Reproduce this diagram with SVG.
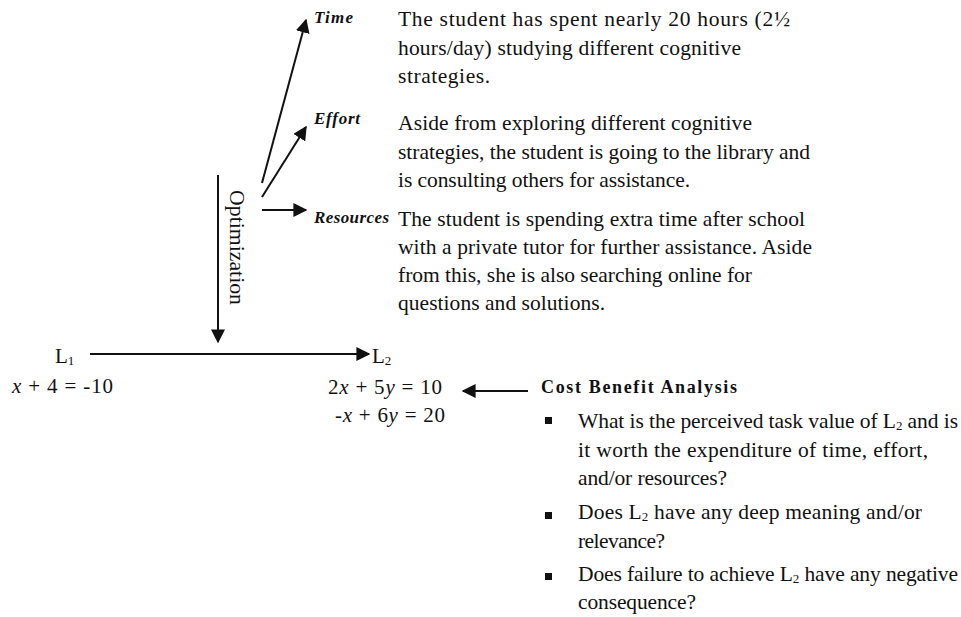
<svg xmlns="http://www.w3.org/2000/svg" width="961" height="617" viewBox="0 0 961 617">
<style>
text{font-family:"Liberation Serif","Times New Roman",serif;fill:#111;}
.body{font-size:21.5px;}
.lab{font-size:17px;font-style:italic;font-weight:bold;}
.eq{font-size:21px;}
.hd{font-size:18px;font-weight:bold;}
.sub{font-size:13px;}
.ln{stroke:#111;stroke-width:2;fill:none;}
</style>
<defs>
<marker id="ahb" viewBox="0 0 10 10" refX="9" refY="5" markerWidth="14" markerHeight="14" markerUnits="userSpaceOnUse" orient="auto">
<path d="M0,0 L10,5 L0,10 z" fill="#111"/>
</marker>
</defs>
<g id="connectors">
<line class="ln" x1="262" y1="183" x2="306" y2="20" marker-end="url(#ahb)"/>
<line class="ln" x1="262" y1="197" x2="306" y2="127" marker-end="url(#ahb)"/>
<line class="ln" x1="262" y1="210" x2="306" y2="210" marker-end="url(#ahb)"/>
<line class="ln" x1="218" y1="175" x2="218" y2="342" marker-end="url(#ahb)"/>
<line class="ln" x1="90" y1="354" x2="369" y2="354" marker-end="url(#ahb)"/>
<line class="ln" x1="528" y1="391" x2="463" y2="391" marker-end="url(#ahb)"/>
</g>
<g id="optimization">
<text class="body" transform="translate(230,190) rotate(90)" textLength="115" lengthAdjust="spacingAndGlyphs">Optimization</text>
</g>
<g id="time">
<text class="lab" x="314" y="23" textLength="39">Time</text>
<text class="body" x="398" y="26" textLength="392">The student has spent nearly 20 hours (2½</text>
<text class="body" x="398" y="55" textLength="343">hours/day) studying different cognitive</text>
<text class="body" x="398" y="83" textLength="92">strategies.</text>
</g>
<g id="effort">
<text class="lab" x="314" y="124" textLength="46">Effort</text>
<text class="body" x="398" y="130" textLength="354">Aside from exploring different cognitive</text>
<text class="body" x="398" y="159" textLength="412">strategies, the student is going to the library and</text>
<text class="body" x="398" y="187" textLength="292">is consulting others for assistance.</text>
</g>
<g id="resources">
<text class="lab" x="314" y="223" textLength="75">Resources</text>
<text class="body" x="398" y="226" textLength="407">The student is spending extra time after school</text>
<text class="body" x="398" y="254" textLength="414">with a private tutor for further assistance. Aside</text>
<text class="body" x="398" y="282" textLength="354">from this, she is also searching online for</text>
<text class="body" x="398" y="310" textLength="207">questions and solutions.</text>
</g>
<g id="L1">
<text class="eq" x="55" y="363">L<tspan class="sub" dy="2">1</tspan></text>
<text class="eq" x="12" y="393" textLength="101"><tspan font-style="italic">x</tspan> + 4 = -10</text>
</g>
<g id="L2">
<text class="eq" x="372" y="363">L<tspan class="sub" dy="2">2</tspan></text>
<text class="eq" x="328" y="394" textLength="114">2<tspan font-style="italic">x</tspan> + 5<tspan font-style="italic">y</tspan> = 10</text>
<text class="eq" x="335" y="422" textLength="110">-<tspan font-style="italic">x</tspan> + 6<tspan font-style="italic">y</tspan> = 20</text>
</g>
<g id="cost-benefit">
<text class="hd" x="541" y="393" textLength="196">Cost Benefit Analysis</text>
<rect x="545" y="417" width="7" height="7" fill="#111"/>
<rect x="545" y="512" width="7" height="7" fill="#111"/>
<rect x="545" y="573" width="7" height="7" fill="#111"/>
<text class="body" x="578" y="428" textLength="380">What is the perceived task value of L<tspan class="sub" dy="2">2</tspan><tspan dy="-2"> and is</tspan></text>
<text class="body" x="578" y="457" textLength="350">it worth the expenditure of time, effort,</text>
<text class="body" x="578" y="485" textLength="149">and/or resources?</text>
<text class="body" x="578" y="519" textLength="344">Does L<tspan class="sub" dy="2">2</tspan><tspan dy="-2"> have any deep meaning and/or</tspan></text>
<text class="body" x="578" y="548" textLength="87">relevance?</text>
<text class="body" x="578" y="581" textLength="380">Does failure to achieve L<tspan class="sub" dy="2">2</tspan><tspan dy="-2"> have any negative</tspan></text>
<text class="body" x="578" y="609" textLength="118">consequence?</text>
</g>
</svg>
